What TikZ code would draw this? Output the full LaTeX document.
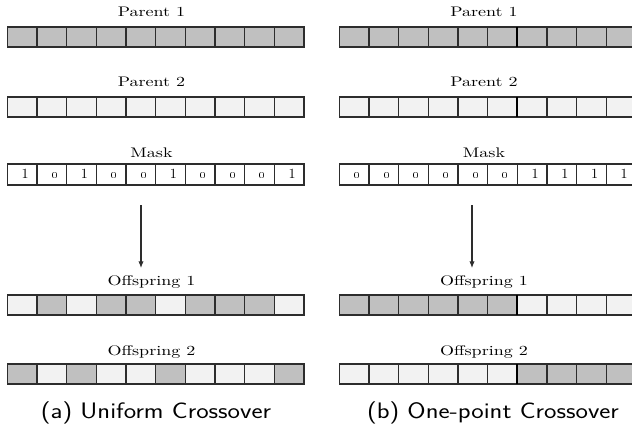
\documentclass[tikz,border=0pt]{standalone}
\usepackage{graphicx}
\usetikzlibrary{arrows.meta}
\definecolor{cdark}{RGB}{192,192,192}
\definecolor{clight}{RGB}{242,242,242}
\definecolor{cline}{RGB}{45,45,45}
\newcommand{\lbltxt}[1]{\scalebox{1.3}[1]{\fontsize{10.4pt}{12pt}\selectfont #1}}
\newcommand{\captxt}[1]{\scalebox{1.18}[1]{\fontsize{16.8pt}{19pt}\selectfont\sffamily #1}}
\newcommand{\bz}{\oldstylenums{0}}
\newcommand{\bo}{1}
\begin{document}
\begin{tikzpicture}[x=0.75pt,y=-0.75pt,
  cell/.style={draw=cline, line width=0.8pt, minimum width=22.25pt, minimum height=15pt, inner sep=0pt, outer sep=0pt},
  dk/.style={cell, fill=cdark},
  lt/.style={cell, fill=clight},
  wt/.style={cell, fill=white, minimum height=15.75pt},
  lbl/.style={anchor=base, inner sep=0pt},
  captionnode/.style={anchor=base, inner sep=0pt},
  bit/.style={inner sep=0pt, anchor=base, font=\fontsize{10.5pt}{12pt}\selectfont},
  arr/.style={draw=cline, line width=0.8pt, -{Latex[length=5pt,width=4pt]}},
  cutline/.style={line width=1.6pt, draw=black}]
\useasboundingbox (0,0) rectangle (632,428);
\clip (0,0) rectangle (632,428);

% ---------- (a) Uniform crossover ----------
\foreach \s [count=\i] in {dk,dk,dk,dk,dk,dk,dk,dk,dk,dk}
  \node[\s] (aP1c\i) at ({7.3+(\i-0.5)*29.67},37) {};
\foreach \s [count=\i] in {lt,lt,lt,lt,lt,lt,lt,lt,lt,lt}
  \node[\s] (aP2c\i) at ({7.3+(\i-0.5)*29.67},107) {};
\foreach \d [count=\i] in {\bo,\bz,\bo,\bz,\bz,\bo,\bz,\bz,\bz,\bo}{
  \node[wt] (aMc\i) at ({7.3+(\i-0.5)*29.67},174.5) {};
  \node[bit] (aMd\i) at ({7.3+(\i-0.5)*29.67+3},178.5) {\d};
}
\foreach \s [count=\i] in {lt,dk,lt,dk,dk,lt,dk,dk,dk,lt}
  \node[\s] (aO1c\i) at ({7.3+(\i-0.5)*29.67},305) {};
\foreach \s [count=\i] in {dk,lt,dk,lt,lt,dk,lt,lt,lt,dk}
  \node[\s] (aO2c\i) at ({7.3+(\i-0.5)*29.67},374) {};

\node[lbl] (aP1l) at (151.5,17) {\lbltxt{Parent 1}};
\node[lbl] (aP2l) at (151.5,87) {\lbltxt{Parent 2}};
\node[lbl] (aMl)  at (151.5,157) {\lbltxt{Mask}};
\node[lbl] (aO1l) at (151.5,285.5) {\lbltxt{Offspring 1}};
\node[lbl] (aO2l) at (151.5,355.5) {\lbltxt{Offspring 2}};

\coordinate (aAs) at (141,205);
\coordinate (aAe) at (141,268);
\draw[arr] (aAs) -- (aAe);

\node[captionnode] (acap) at (156,418) {\captxt{(a) Uniform Crossover}};

% ---------- (b) One-point crossover ----------
\foreach \s [count=\i] in {dk,dk,dk,dk,dk,dk,dk,dk,dk,dk}
  \node[\s] (bP1c\i) at ({339.3+(\i-0.5)*29.67},37) {};
\foreach \s [count=\i] in {lt,lt,lt,lt,lt,lt,lt,lt,lt,lt}
  \node[\s] (bP2c\i) at ({339.3+(\i-0.5)*29.67},107) {};
\foreach \d [count=\i] in {\bz,\bz,\bz,\bz,\bz,\bz,\bo,\bo,\bo,\bo}{
  \node[wt] (bMc\i) at ({339.3+(\i-0.5)*29.67},174.5) {};
  \node[bit] (bMd\i) at ({339.3+(\i-0.5)*29.67+3},178.5) {\d};
}
\foreach \s [count=\i] in {dk,dk,dk,dk,dk,dk,lt,lt,lt,lt}
  \node[\s] (bO1c\i) at ({339.3+(\i-0.5)*29.67},305) {};
\foreach \s [count=\i] in {lt,lt,lt,lt,lt,lt,dk,dk,dk,dk}
  \node[\s] (bO2c\i) at ({339.3+(\i-0.5)*29.67},374) {};

\draw[cutline] (bP1c6.north east) -- (bP1c6.south east);
\draw[cutline] (bP2c6.north east) -- (bP2c6.south east);
\draw[cutline] (bO1c6.north east) -- (bO1c6.south east);
\draw[cutline] (bO2c6.north east) -- (bO2c6.south east);

\node[lbl] (bP1l) at (484,17) {\lbltxt{Parent 1}};
\node[lbl] (bP2l) at (484,87) {\lbltxt{Parent 2}};
\node[lbl] (bMl)  at (484,157) {\lbltxt{Mask}};
\node[lbl] (bO1l) at (484,285.5) {\lbltxt{Offspring 1}};
\node[lbl] (bO2l) at (484,355.5) {\lbltxt{Offspring 2}};

\coordinate (bAs) at (472,205);
\coordinate (bAe) at (472,268);
\draw[arr] (bAs) -- (bAe);

\node[captionnode] (bcap) at (493,418) {\captxt{(b) One-point Crossover}};
\end{tikzpicture}
\end{document}
